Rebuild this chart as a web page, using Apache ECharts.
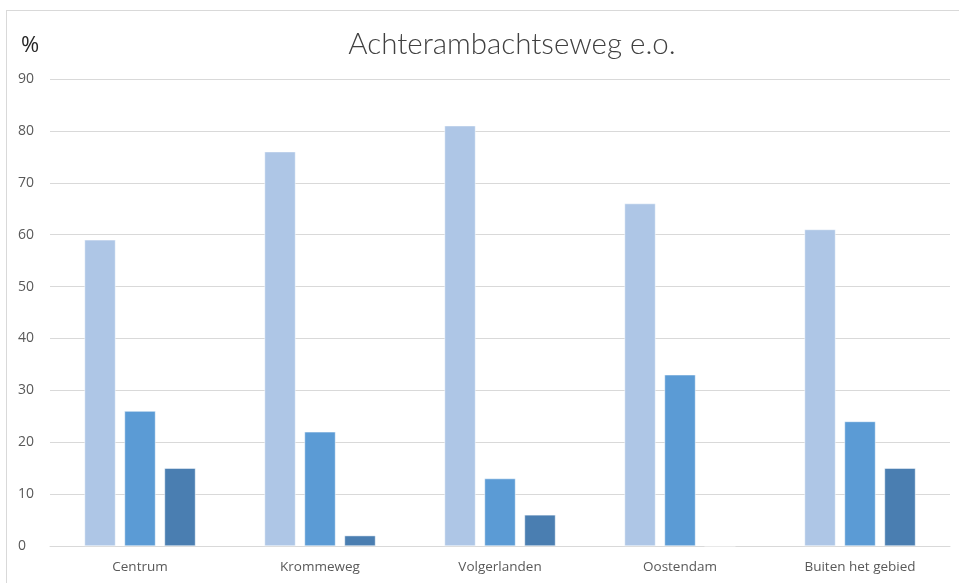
<!DOCTYPE html>
<html>
<head>
<meta charset="utf-8">
<script src="https://cdn.jsdelivr.net/npm/echarts@6/dist/echarts.min.js"></script>
<style>
    html, body { margin: 0; padding: 0; background: #fff; overflow: hidden; }
    #frame { position: absolute; left: 6px; top: 10px; width: 1000px; height: 700px; border: 1px solid #d9d9d9; }
    #chart-bar-01 { position: absolute; left: 0; top: 0; width: 959px; height: 583px; }
</style>
</head>
<body>
<div id="frame"></div>
<div id="chart-bar-01"></div>
<script>
// 数据
var categories = ['Centrum', 'Krommeweg', 'Volgerlanden', 'Oostendam', 'Buiten het gebied'];
var serieA = [59, 76, 81, 66, 61];
var serieB = [26, 22, 13, 33, 24];
var serieC = [15, 2, 6, 0, 15];
var yTicks = [0, 10, 20, 30, 40, 50, 60, 70, 80, 90];

function getChartsBar(xObj) {
    var chart = echarts.init(document.getElementById('chart-bar-01'));

    var option = {
        animation: false,
        color: ['#aec6e6', '#5b9bd5', '#4a7eb1'],
        title: {
            text: 'Achterambachtseweg e.o.',
            left: 507,
            top: 24,
            textAlign: 'center',
            textStyle: {
                color: '#404040',
                fontFamily: 'Lato',
                fontWeight: 300,
                fontSize: 29.5
            }
        },
        graphic: [{
            type: 'text',
            left: 21,
            top: 35,
            style: {
                text: '%',
                fill: '#262626',
                font: '22px "Open Sans"'
            }
        }],
        grid: {
            left: 50,
            right: 9,
            top: 79,
            bottom: 37,
            containLabel: false
        },
        xAxis: {
            type: 'category',
            data: xObj,
            axisLabel: {
                color: '#595959',
                fontFamily: 'Open Sans',
                fontSize: 13.5,
                margin: 14
            },
            axisLine: {
                lineStyle: { color: '#d9d9d9' }
            },
            axisTick: { show: false }
        },
        yAxis: {
            type: 'value',
            min: yTicks[0],
            max: yTicks[yTicks.length - 1],
            interval: 10,
            axisLabel: {
                color: '#595959',
                fontFamily: 'Open Sans',
                fontSize: 14,
                align: 'left',
                margin: 32
            },
            axisLine: { show: false },
            axisTick: { show: false },
            splitLine: {
                lineStyle: { color: '#d9d9d9' }
            }
        },
        series: [{
            type: 'bar',
            data: serieA,
            barWidth: 31,
            barGap: '29%',
            itemStyle: { borderColor: '#fff', borderWidth: 0.5 }
        }, {
            type: 'bar',
            data: serieB,
            barWidth: 31,
            barGap: '29%',
            itemStyle: { borderColor: '#fff', borderWidth: 0.5 }
        }, {
            type: 'bar',
            data: serieC,
            barWidth: 31,
            barGap: '29%',
            itemStyle: { borderColor: '#fff', borderWidth: 0.5 }
        }]
    };

    chart.setOption(option);
}

getChartsBar(categories);
</script>
</body>
</html>
